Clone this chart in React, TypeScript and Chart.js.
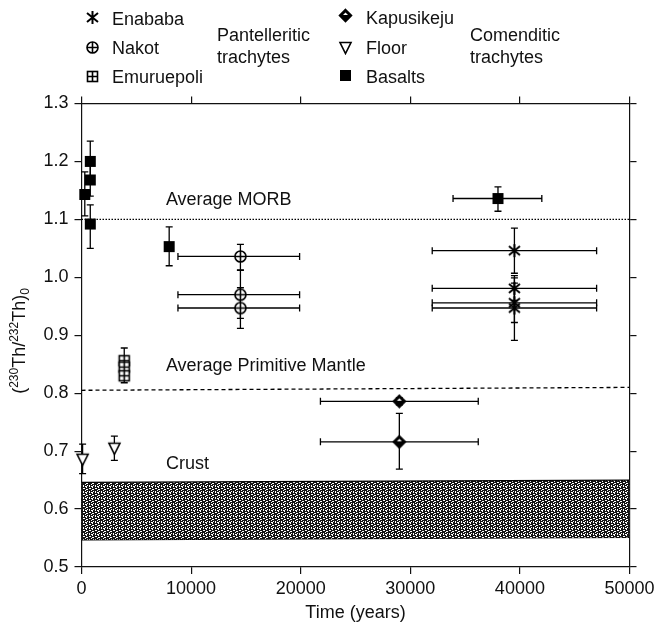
import React, { useEffect, useRef } from 'react';
import { Chart, registerables } from 'chart.js';

Chart.register(...registerables);

const FONT = '"Liberation Sans", Arial, Helvetica, sans-serif';
const INK = '#111';

// ---- Axis ticks ----
const xTicks = [0, 10000, 20000, 30000, 40000, 50000];
const yTicks = [0.5, 0.6, 0.7, 0.8, 0.9, 1.0, 1.1, 1.2, 1.3];

// ---- Enababa (pantelleritic) ----
const enababaTime = [39500, 39500, 39500, 39500];
const enababaRatio = [1.046, 0.981, 0.956, 0.947];
const enababaRatioLow = [1.007, 0.96, 0.922, 0.891];
const enababaRatioHigh = [1.085, 1.003, 0.99, 0.999];
const enababaTimeLow = [32000, 32000, 32000, 32000];
const enababaTimeHigh = [47000, 47000, 47000, 47000];

// ---- Nakot (pantelleritic) ----
const nakotTime = [14500, 14500, 14500];
const nakotRatio = [1.036, 0.97, 0.947];
const nakotRatioLow = [1.012, 0.929, 0.912];
const nakotRatioHigh = [1.057, 1.013, 0.982];
const nakotTimeLow = [8800, 8800, 8800];
const nakotTimeHigh = [19900, 19900, 19900];

// ---- Emuruepoli (pantelleritic) ----
const emuruepoliTime = [3900, 3900, 3900];
const emuruepoliRatio = [0.856, 0.845, 0.83];
const emuruepoliRatioLow = [0.84, 0.83, 0.818];
const emuruepoliRatioHigh = [0.878, 0.862, 0.842];

// ---- Kapusikeju (comenditic) ----
const kapusikejuTime = [29000, 29000];
const kapusikejuRatio = [0.786, 0.716];
const kapusikejuRatioLow = [0.78, 0.669];
const kapusikejuRatioHigh = [0.792, 0.765];
const kapusikejuTimeLow = [21800, 21800];
const kapusikejuTimeHigh = [36200, 36200];

// ---- Floor (comenditic) ----
const floorTime = [100, 3000];
const floorRatio = [0.686, 0.705];
const floorRatioLow = [0.661, 0.684];
const floorRatioHigh = [0.712, 0.726];

// ---- Basalts ----
const basaltTime = [800, 800, 300, 800, 8000, 38000];
const basaltRatio = [1.2, 1.168, 1.143, 1.092, 1.053, 1.136];
const basaltRatioLow = [1.165, 1.14, 1.106, 1.05, 1.02, 1.114];
const basaltRatioHigh = [1.235, 1.196, 1.182, 1.125, 1.087, 1.156];
const basaltTimeLow = [null, null, null, null, null, 33900];
const basaltTimeHigh = [null, null, null, null, null, 42000];

// ---- Reference lines / band ----
const refTime = [0, 50000];
const morbRatio = [1.1, 1.1];
const mantleRatio = [0.805, 0.81];
const crustTop = [0.646, 0.65];
const crustBottom = [0.547, 0.551];

function makeMarker(kind: string): HTMLCanvasElement {
  const c = document.createElement('canvas');
  const S = 15;
  c.width = S;
  c.height = S;
  const g = c.getContext('2d')!;
  const m = S / 2;
  g.strokeStyle = '#000';
  g.fillStyle = '#000';
  g.lineWidth = 1.6;
  if (kind === 'asterisk') {
    g.lineWidth = 2;
    g.beginPath();
    g.moveTo(m, 1); g.lineTo(m, S - 1);
    g.moveTo(2, 3); g.lineTo(S - 2, S - 3);
    g.moveTo(S - 2, 3); g.lineTo(2, S - 3);
    g.stroke();
  } else if (kind === 'circlePlus') {
    g.fillStyle = '#fff';
    g.beginPath(); g.arc(m, m, 5.5, 0, Math.PI * 2); g.fill(); g.stroke();
    g.beginPath();
    g.moveTo(m, m - 5.5); g.lineTo(m, m + 5.5);
    g.moveTo(m - 5.5, m); g.lineTo(m + 5.5, m);
    g.stroke();
  } else if (kind === 'squarePlus') {
    g.fillStyle = '#fff';
    g.fillRect(2.5, 2.5, 10, 10);
    g.strokeRect(2.5, 2.5, 10, 10);
    g.beginPath();
    g.moveTo(m, 2.5); g.lineTo(m, 12.5);
    g.moveTo(2.5, m); g.lineTo(12.5, m);
    g.stroke();
  } else if (kind === 'diamond') {
    g.beginPath();
    g.moveTo(m, 1.5); g.lineTo(S - 1.5, m); g.lineTo(m, S - 1.5); g.lineTo(1.5, m); g.closePath();
    g.fill(); g.stroke();
    g.fillStyle = '#fff';
    g.beginPath();
    g.moveTo(m, 4.5); g.lineTo(m + 2.5, m - 0.5); g.lineTo(m - 2.5, m - 0.5); g.closePath();
    g.fill();
  } else if (kind === 'triangleDown') {
    g.fillStyle = '#fff';
    g.beginPath();
    g.moveTo(2, 2.5); g.lineTo(S - 2, 2.5); g.lineTo(m, S - 1.5); g.closePath();
    g.fill(); g.stroke();
  } else if (kind === 'square') {
    g.fillRect(2, 2, 11, 11);
  }
  return c;
}

function makePattern(ctx: CanvasRenderingContext2D): CanvasPattern | string {
  const rows = [
    '#..##.',
    '##.###',
    '.####.',
    '##..##',
    '#.####',
    '###.#.',
  ];
  const t = document.createElement('canvas');
  t.width = 6;
  t.height = 6;
  const g = t.getContext('2d')!;
  g.fillStyle = '#ffffff';
  g.fillRect(0, 0, 6, 6);
  g.fillStyle = '#151515';
  rows.forEach((r, yy) => {
    for (let xx = 0; xx < r.length; xx++) if (r[xx] === '#') g.fillRect(xx, yy, 1, 1);
  });
  return ctx.createPattern(t, 'repeat') || '#555';
}

function pts(xs: number[], ys: number[]) {
  return xs.map((x, i) => ({ x, y: ys[i] }));
}

const errorBarPlugin = {
  id: 'errorBars',
  beforeDatasetsDraw(chart: any) {
    const { ctx, scales } = chart;
    const xs = scales.x;
    const ys = scales.y;
    const cap = 3.5;
    ctx.save();
    ctx.strokeStyle = '#000';
    ctx.lineWidth = 1.3;
    chart.data.datasets.forEach((ds: any) => {
      const e = ds.errors;
      if (!e) return;
      ds.data.forEach((p: any, i: number) => {
        const px = xs.getPixelForValue(p.x);
        if (e.yLow && e.yLow[i] != null) {
          const y1 = ys.getPixelForValue(e.yLow[i]);
          const y2 = ys.getPixelForValue(e.yHigh[i]);
          ctx.beginPath();
          ctx.moveTo(px, y1); ctx.lineTo(px, y2);
          ctx.moveTo(px - cap, y1); ctx.lineTo(px + cap, y1);
          ctx.moveTo(px - cap, y2); ctx.lineTo(px + cap, y2);
          ctx.stroke();
        }
        if (e.xLow && e.xLow[i] != null) {
          const py = ys.getPixelForValue(p.y);
          const x1 = xs.getPixelForValue(e.xLow[i]);
          const x2 = xs.getPixelForValue(e.xHigh[i]);
          ctx.beginPath();
          ctx.moveTo(x1, py); ctx.lineTo(x2, py);
          ctx.moveTo(x1, py - cap); ctx.lineTo(x1, py + cap);
          ctx.moveTo(x2, py - cap); ctx.lineTo(x2, py + cap);
          ctx.stroke();
        }
      });
    });
    ctx.restore();
  },
};

function makeOverlayPlugin(markers: Record<string, HTMLCanvasElement>) {
  return {
    id: 'overlay',
    afterDraw(chart: any) {
      const { ctx, scales } = chart;
      const xs = scales.x;
      const ys = scales.y;
      ctx.save();
      ctx.fillStyle = INK;
      ctx.textAlign = 'left';
      ctx.textBaseline = 'alphabetic';
      ctx.font = `18px ${FONT}`;

      // Legend block
      const legendItems = [
        { m: 'asterisk', t: 'Enababa', mx: 92, my: 17.5, tx: 112, ty: 24.5 },
        { m: 'circlePlus', t: 'Nakot', mx: 92, my: 47.5, tx: 112, ty: 54 },
        { m: 'squarePlus', t: 'Emuruepoli', mx: 92, my: 76, tx: 112, ty: 83 },
        { m: 'diamond', t: 'Kapusikeju', mx: 345, my: 15.5, tx: 366, ty: 23.5 },
        { m: 'triangleDown', t: 'Floor', mx: 345, my: 47, tx: 366, ty: 54 },
        { m: 'square', t: 'Basalts', mx: 345, my: 75.5, tx: 366, ty: 82.5 },
      ];
      legendItems.forEach((it) => {
        const img = markers[it.m];
        ctx.drawImage(img, Math.round(it.mx - img.width / 2), Math.round(it.my - img.height / 2));
        ctx.fillText(it.t, it.tx, it.ty);
      });
      ctx.fillText('Pantelleritic', 217, 40.5);
      ctx.fillText('trachytes', 217, 63);
      ctx.fillText('Comenditic', 470, 40.5);
      ctx.fillText('trachytes', 470, 63);

      // Reference line labels
      const labels = [
        { t: 'Average MORB', x: 7700, y: 1.125 },
        { t: 'Average Primitive Mantle', x: 7700, y: 0.8375 },
        { t: 'Crust', x: 7700, y: 0.67 },
      ];
      labels.forEach((l) => {
        ctx.fillText(l.t, xs.getPixelForValue(l.x), ys.getPixelForValue(l.y));
      });

      // Y-axis title: (230Th/232Th)0
      const parts = [
        { s: '(', size: 18, dy: 0 },
        { s: '230', size: 12, dy: -7 },
        { s: 'Th/', size: 18, dy: 0 },
        { s: '232', size: 12, dy: -7 },
        { s: 'Th)', size: 18, dy: 0 },
        { s: '0', size: 12, dy: 4 },
      ];
      let total = 0;
      parts.forEach((p) => {
        ctx.font = `${p.size}px ${FONT}`;
        total += ctx.measureText(p.s).width;
      });
      ctx.translate(25, 341);
      ctx.rotate(-Math.PI / 2);
      let cx = -total / 2;
      parts.forEach((p) => {
        ctx.font = `${p.size}px ${FONT}`;
        ctx.fillText(p.s, cx, p.dy);
        cx += ctx.measureText(p.s).width;
      });
      ctx.restore();
    },
  };
}

export default function App() {
  const ref = useRef<HTMLCanvasElement | null>(null);

  useEffect(() => {
    const canvas = ref.current!;
    const ctx = canvas.getContext('2d')!;
    const markers: Record<string, HTMLCanvasElement> = {
      asterisk: makeMarker('asterisk'),
      circlePlus: makeMarker('circlePlus'),
      squarePlus: makeMarker('squarePlus'),
      diamond: makeMarker('diamond'),
      triangleDown: makeMarker('triangleDown'),
      square: makeMarker('square'),
    };
    const pattern = makePattern(ctx);

    const pointDs = (label: string, marker: string, xs: number[], ys: number[], errors: any) => ({
      label,
      data: pts(xs, ys),
      pointStyle: markers[marker],
      pointRadius: 7,
      borderColor: INK,
      backgroundColor: INK,
      showLine: false,
      clip: false,
      errors,
    });

    const lineDs = (label: string, ys: number[], extra: any) => ({
      label,
      data: pts(refTime, ys),
      showLine: true,
      pointRadius: 0,
      borderColor: '#000',
      borderWidth: 1.3,
      backgroundColor: 'transparent',
      fill: false,
      ...extra,
    });

    const grid = {
      drawOnChartArea: false,
      drawTicks: true,
      tickLength: 7,
      color: INK,
      lineWidth: 1.2,
    };
    const border = { display: true, color: INK, width: 1.2 };
    const tickFont = { family: FONT, size: 18 };

    const chart = new Chart(canvas, {
      type: 'scatter',
      data: {
        datasets: [
          pointDs('Enababa', 'asterisk', enababaTime, enababaRatio, {
            yLow: enababaRatioLow, yHigh: enababaRatioHigh, xLow: enababaTimeLow, xHigh: enababaTimeHigh,
          }),
          pointDs('Nakot', 'circlePlus', nakotTime, nakotRatio, {
            yLow: nakotRatioLow, yHigh: nakotRatioHigh, xLow: nakotTimeLow, xHigh: nakotTimeHigh,
          }),
          pointDs('Emuruepoli', 'squarePlus', emuruepoliTime, emuruepoliRatio, {
            yLow: emuruepoliRatioLow, yHigh: emuruepoliRatioHigh,
          }),
          pointDs('Kapusikeju', 'diamond', kapusikejuTime, kapusikejuRatio, {
            yLow: kapusikejuRatioLow, yHigh: kapusikejuRatioHigh, xLow: kapusikejuTimeLow, xHigh: kapusikejuTimeHigh,
          }),
          pointDs('Floor', 'triangleDown', floorTime, floorRatio, {
            yLow: floorRatioLow, yHigh: floorRatioHigh,
          }),
          pointDs('Basalts', 'square', basaltTime, basaltRatio, {
            yLow: basaltRatioLow, yHigh: basaltRatioHigh, xLow: basaltTimeLow, xHigh: basaltTimeHigh,
          }),
          lineDs('Average MORB', morbRatio, { borderDash: [1.5, 1.5], borderWidth: 1.1 }),
          lineDs('Average Primitive Mantle', mantleRatio, { borderDash: [4, 3], borderWidth: 1.3 }),
          lineDs('Crust top', crustTop, { fill: '+1', backgroundColor: pattern }),
          lineDs('Crust bottom', crustBottom, {}),
        ] as any,
      },
      options: {
        animation: false,
        responsive: false,
        devicePixelRatio: 1,
        layout: { padding: 0 },
        plugins: {
          legend: { display: false },
          tooltip: { enabled: false },
          title: { display: false },
        },
        scales: {
          x: {
            type: 'linear',
            position: 'bottom',
            min: 0,
            max: 50000,
            afterBuildTicks: (s: any) => { s.ticks = xTicks.map((v) => ({ value: v })); },
            afterFit: (s: any) => { s.height = 62; },
            ticks: {
              color: INK,
              font: tickFont,
              padding: 4,
              maxRotation: 0,
              autoSkip: false,
              callback: (v: any) => String(v),
            },
            grid,
            border,
            title: {
              display: true,
              text: 'Time (years)',
              color: INK,
              font: { family: FONT, size: 18 },
              padding: { top: 0, bottom: 5 },
            },
          },
          x2: {
            type: 'linear',
            position: 'top',
            min: 0,
            max: 50000,
            afterBuildTicks: (s: any) => { s.ticks = xTicks.map((v) => ({ value: v })); },
            afterFit: (s: any) => { s.height = 103.5; },
            ticks: { display: false },
            grid,
            border,
          },
          y: {
            type: 'linear',
            position: 'left',
            min: 0.5,
            max: 1.3,
            afterBuildTicks: (s: any) => { s.ticks = yTicks.map((v) => ({ value: v })); },
            afterFit: (s: any) => { s.width = 81.5; },
            ticks: {
              color: INK,
              font: tickFont,
              padding: 6,
              autoSkip: false,
              callback: (v: any) => Number(v).toFixed(1),
            },
            grid,
            border,
          },
          y2: {
            type: 'linear',
            position: 'right',
            min: 0.5,
            max: 1.3,
            afterBuildTicks: (s: any) => { s.ticks = yTicks.map((v) => ({ value: v })); },
            afterFit: (s: any) => { s.width = 29.5; },
            ticks: { display: false },
            grid,
            border,
          },
        },
      } as any,
      plugins: [errorBarPlugin, makeOverlayPlugin(markers)] as any,
    });

    return () => chart.destroy();
  }, []);

  return (
    <div style={{ position: 'absolute', left: 0, top: 0, width: 659, height: 629, background: '#fff' }}>
      <canvas ref={ref} width={659} height={629} style={{ display: 'block', width: 659, height: 629 }} />
    </div>
  );
}
